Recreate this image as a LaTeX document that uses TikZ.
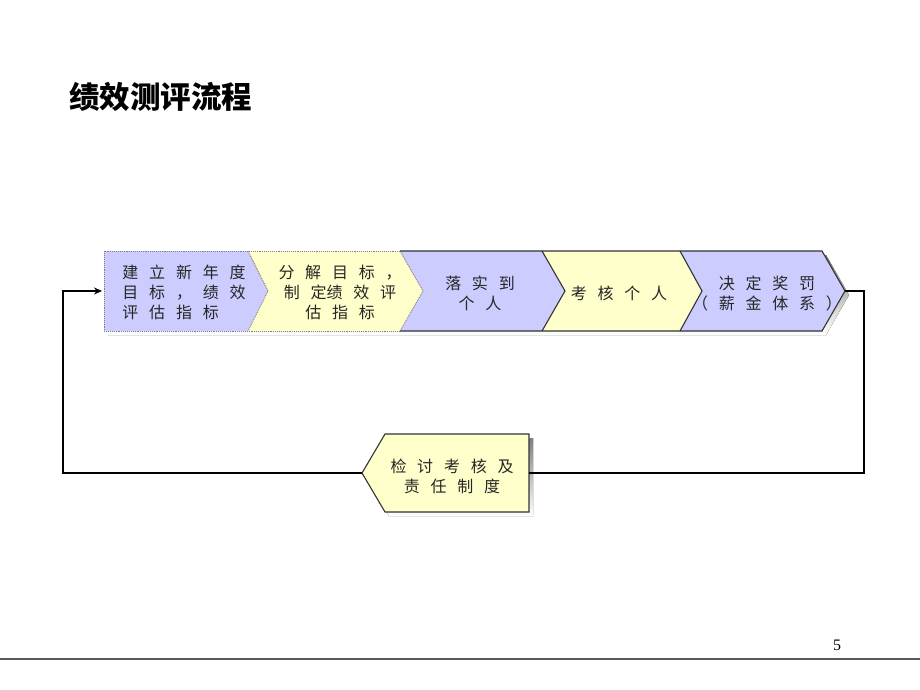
\documentclass[tikz,border=0pt]{standalone}
\usepackage{fontspec}
\setmainfont{Liberation Serif}
\newfontfamily\cjk[WordSpace=3]{Noto Sans CJK SC}
\usetikzlibrary{arrows.meta,positioning}
\definecolor{lav}{RGB}{204,204,255}
\definecolor{cream}{RGB}{255,255,204}
\definecolor{shade}{RGB}{212,212,240}

\begin{document}
\begin{tikzpicture}[x=1pt,y=-1pt,>=Stealth, every node/.style={font=\cjk\fontsize{16}{20}\selectfont,text=black!85,align=center,inner sep=0pt}]
    \tikzset{solidedge/.style={draw=black!80,line width=1.1pt,line join=miter}}
    \tikzset{dotedge/.style={draw=gray,densely dotted,line width=0.9pt}}
    \tikzset{conn/.style={draw=black,line width=1.8pt}}
    \useasboundingbox (0,0) rectangle (920,690);

    % Title
    \node[anchor=west,font=\cjk\bfseries\fontsize{30.5}{33}\selectfont,text=black] (title) at (69,97) {绩效测评流程};

    % Shadows
    \fill[shade] (108,255) -- (826,255) -- (849,295) -- (826,335) -- (108,335) -- cycle;
    \fill[shade] (389,438) -- (533,438) -- (533,516) -- (389,516) -- (366,477) -- cycle;

    % Top row of steps
    \fill[lav] (104,251) -- (248,251) -- (268,291) -- (248,331) -- (104,331) -- cycle;
    \fill[cream] (248,251) -- (400,251) -- (423,291) -- (400,331) -- (248,331) -- (268,291) -- cycle;
    \fill[lav] (400,251) -- (542,251) -- (565,291) -- (542,331) -- (400,331) -- (423,291) -- cycle;
    \fill[cream] (542,251) -- (680,251) -- (702,291) -- (680,331) -- (542,331) -- (565,291) -- cycle;
    \fill[lav] (680,251) -- (822,251) -- (845,291) -- (822,331) -- (680,331) -- (702,291) -- cycle;
    \draw[dotedge] (400,251) -- (104,251) -- (104,331) -- (400,331);
    \draw[dotedge] (248,251) -- (268,291) -- (248,331);
    \draw[dotedge] (400,251) -- (423,291) -- (400,331);
    \draw[solidedge] (400,251) -- (822,251) -- (845,291) -- (822,331) -- (400,331);
    \foreach \x/\t in {542/565,680/702}{ \draw[solidedge] (\x,251) -- (\t,291) -- (\x,331); }

    % Bottom step
    \draw[solidedge,fill=cream] (385,434) -- (529,434) -- (529,512) -- (385,512) -- (362,473) -- cycle;

    % Texts
    \node[align=left] (plan) at (184,292) {建 立 新 年 度\\目 标 ， 绩 效\\评 估 指 标};
    \node (split) at (340,292) {分 解 目 标 ，\\制 定绩 效 评\\估 指 标};
    \node (assign) at (480,293) {落 实 到\\个 人};
    \node (assess) at (619,293) {考 核 个 人};
    \node (reward) at (767,293) {决 定 奖 罚\\（ 薪 金 体 系 ）};
    \node (review) at (452,476) {检 讨 考 核 及\\责 任 制 度};

    % Loop back
    \coordinate (rewardtip) at (845,291);
    \coordinate (reviewR) at (529,473);
    \coordinate (reviewL) at (362,473);
    \coordinate (planL) at (102,291);
    \draw[conn] (rewardtip) -- (864,291) |- (reviewR);
    \draw[conn,-{Stealth[length=8pt,width=7pt]}] (reviewL) -- (63,473) |- (planL);

    % Footer
    \draw[gray!70!black,line width=1.2pt] (0,659) -- (920,659);
    \node[font=\rmfamily\fontsize{16}{18}\selectfont,text=black] (pagenum) at (837,645) {5};
\end{tikzpicture}
\end{document}
